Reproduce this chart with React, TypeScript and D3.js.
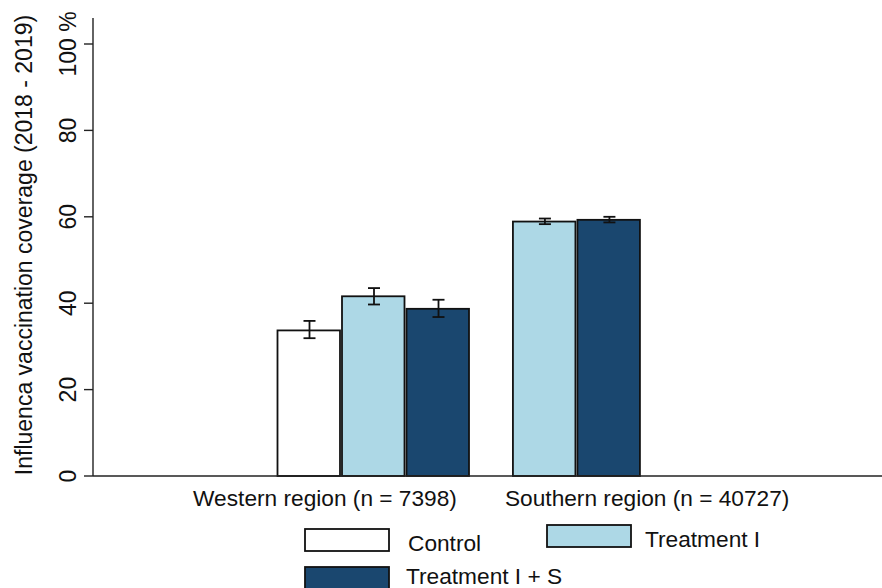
import React from "react";
import * as d3 from "d3";

const groups = ["Western region (n = 7398)", "Southern region (n = 40727)"];
const series = ["Control", "Treatment I", "Treatment I + S"];
const colors = ["#ffffff", "#add8e6", "#1a476f"];

const westernValues = [33.7, 41.6, 38.7];
const westernLow = [31.9, 39.7, 36.8];
const westernHigh = [35.9, 43.5, 40.8];
const southernValues = [null, 58.9, 59.3];
const southernLow = [null, 58.3, 58.7];
const southernHigh = [null, 59.6, 60.0];

const yTicks = [0, 20, 40, 60, 80, 100];
const yTickLabels = ["0", "20", "40", "60", "80", "100 %"];

const W = 882;
const H = 588;
const FONT = "'Liberation Sans', Arial, sans-serif";

const App = () => {
  const y = d3.scaleLinear().domain([0, 100]).range([476, 44]);
  // one slot per bar, with a gap between the two regions
  const x = d3.scaleLinear().domain([0, 1]).range([277.5, 342]);
  const barW = 64;
  const groupStart = [0, 3.65];
  const axisX = 93;

  const bars: any[] = [];
  [[westernValues, westernLow, westernHigh], [southernValues, southernLow, southernHigh]].forEach(
    ([vals, lo, hi], g) => {
      let k = 0;
      vals.forEach((v, i) => {
        if (v == null) return;
        bars.push({ g, i, v, lo: lo[i], hi: hi[i], x0: x(groupStart[g] + k) });
        k++;
      });
    }
  );

  const groupCenter = (g: number) => {
    const b = bars.filter((d) => d.g === g);
    return (b[0].x0 + b[b.length - 1].x0 + barW) / 2;
  };
  // the region labels are not centred on their bars in the original
  const labelX = [groupCenter(0) - 49, groupCenter(1) + 70];

  const txt = (p: any, s: string, size = 22.7, rot = false) => (
    <text
      transform={`translate(${p.x},${p.y})${rot ? " rotate(-90)" : ""}`}
      textAnchor={p.anchor || "start"}
      fontFamily={FONT}
      fontSize={size}
      fill="#111"
    >
      {s}
    </text>
  );

  const legend = [
    { i: 0, bx: 305, by: 529, tx: 408, ty: 551 },
    { i: 1, bx: 547, by: 525, tx: 645, ty: 547 },
    { i: 2, bx: 305, by: 567, tx: 406, ty: 584 },
  ];

  return (
    <svg width={W} height={H} style={{ position: "absolute", left: 0, top: 0 }}>
      <rect width={W} height={H} fill="#fff" />
      {/* y axis */}
      <line x1={axisX} x2={axisX} y1={y(0)} y2={y(106)} stroke="#222" strokeWidth={1.4} />
      {yTicks.map((t, i) => (
        <g key={t}>
          <line x1={84} x2={axisX} y1={y(t)} y2={y(t)} stroke="#222" strokeWidth={1.4} />
          {txt({ x: 76, y: y(t), anchor: "middle" }, yTickLabels[i], 23, true)}
        </g>
      ))}
      {txt({ x: 32, y: 245, anchor: "middle" }, "Influenca vaccination coverage (2018 - 2019)", 23, true)}

      {/* bars */}
      {bars.map((d, n) => (
        <g key={n}>
          <rect
            x={d.x0}
            y={y(d.v)}
            width={barW - 1.5}
            height={y(0) - y(d.v)}
            fill={colors[d.i]}
            stroke="#111"
            strokeWidth={1.8}
          />
          <line x1={d.x0 + barW / 2} x2={d.x0 + barW / 2} y1={y(d.lo)} y2={y(d.hi)} stroke="#111" strokeWidth={1.8} />
          <line x1={d.x0 + barW / 2 - 6} x2={d.x0 + barW / 2 + 6} y1={y(d.lo)} y2={y(d.lo)} stroke="#111" strokeWidth={1.8} />
          <line x1={d.x0 + barW / 2 - 6} x2={d.x0 + barW / 2 + 6} y1={y(d.hi)} y2={y(d.hi)} stroke="#111" strokeWidth={1.8} />
        </g>
      ))}

      {/* x axis */}
      <line x1={axisX} x2={W} y1={y(0)} y2={y(0)} stroke="#222" strokeWidth={1.4} />
      {groups.map((gName, g) => (
        <g key={gName}>{txt({ x: labelX[g], y: 506, anchor: "middle" }, gName)}</g>
      ))}

      {/* legend */}
      {legend.map((l) => (
        <g key={l.i}>
          <rect x={l.bx} y={l.by} width={84} height={22} fill={colors[l.i]} stroke="#111" strokeWidth={1.8} />
          {txt({ x: l.tx, y: l.ty }, series[l.i])}
        </g>
      ))}
    </svg>
  );
};

export default App;
